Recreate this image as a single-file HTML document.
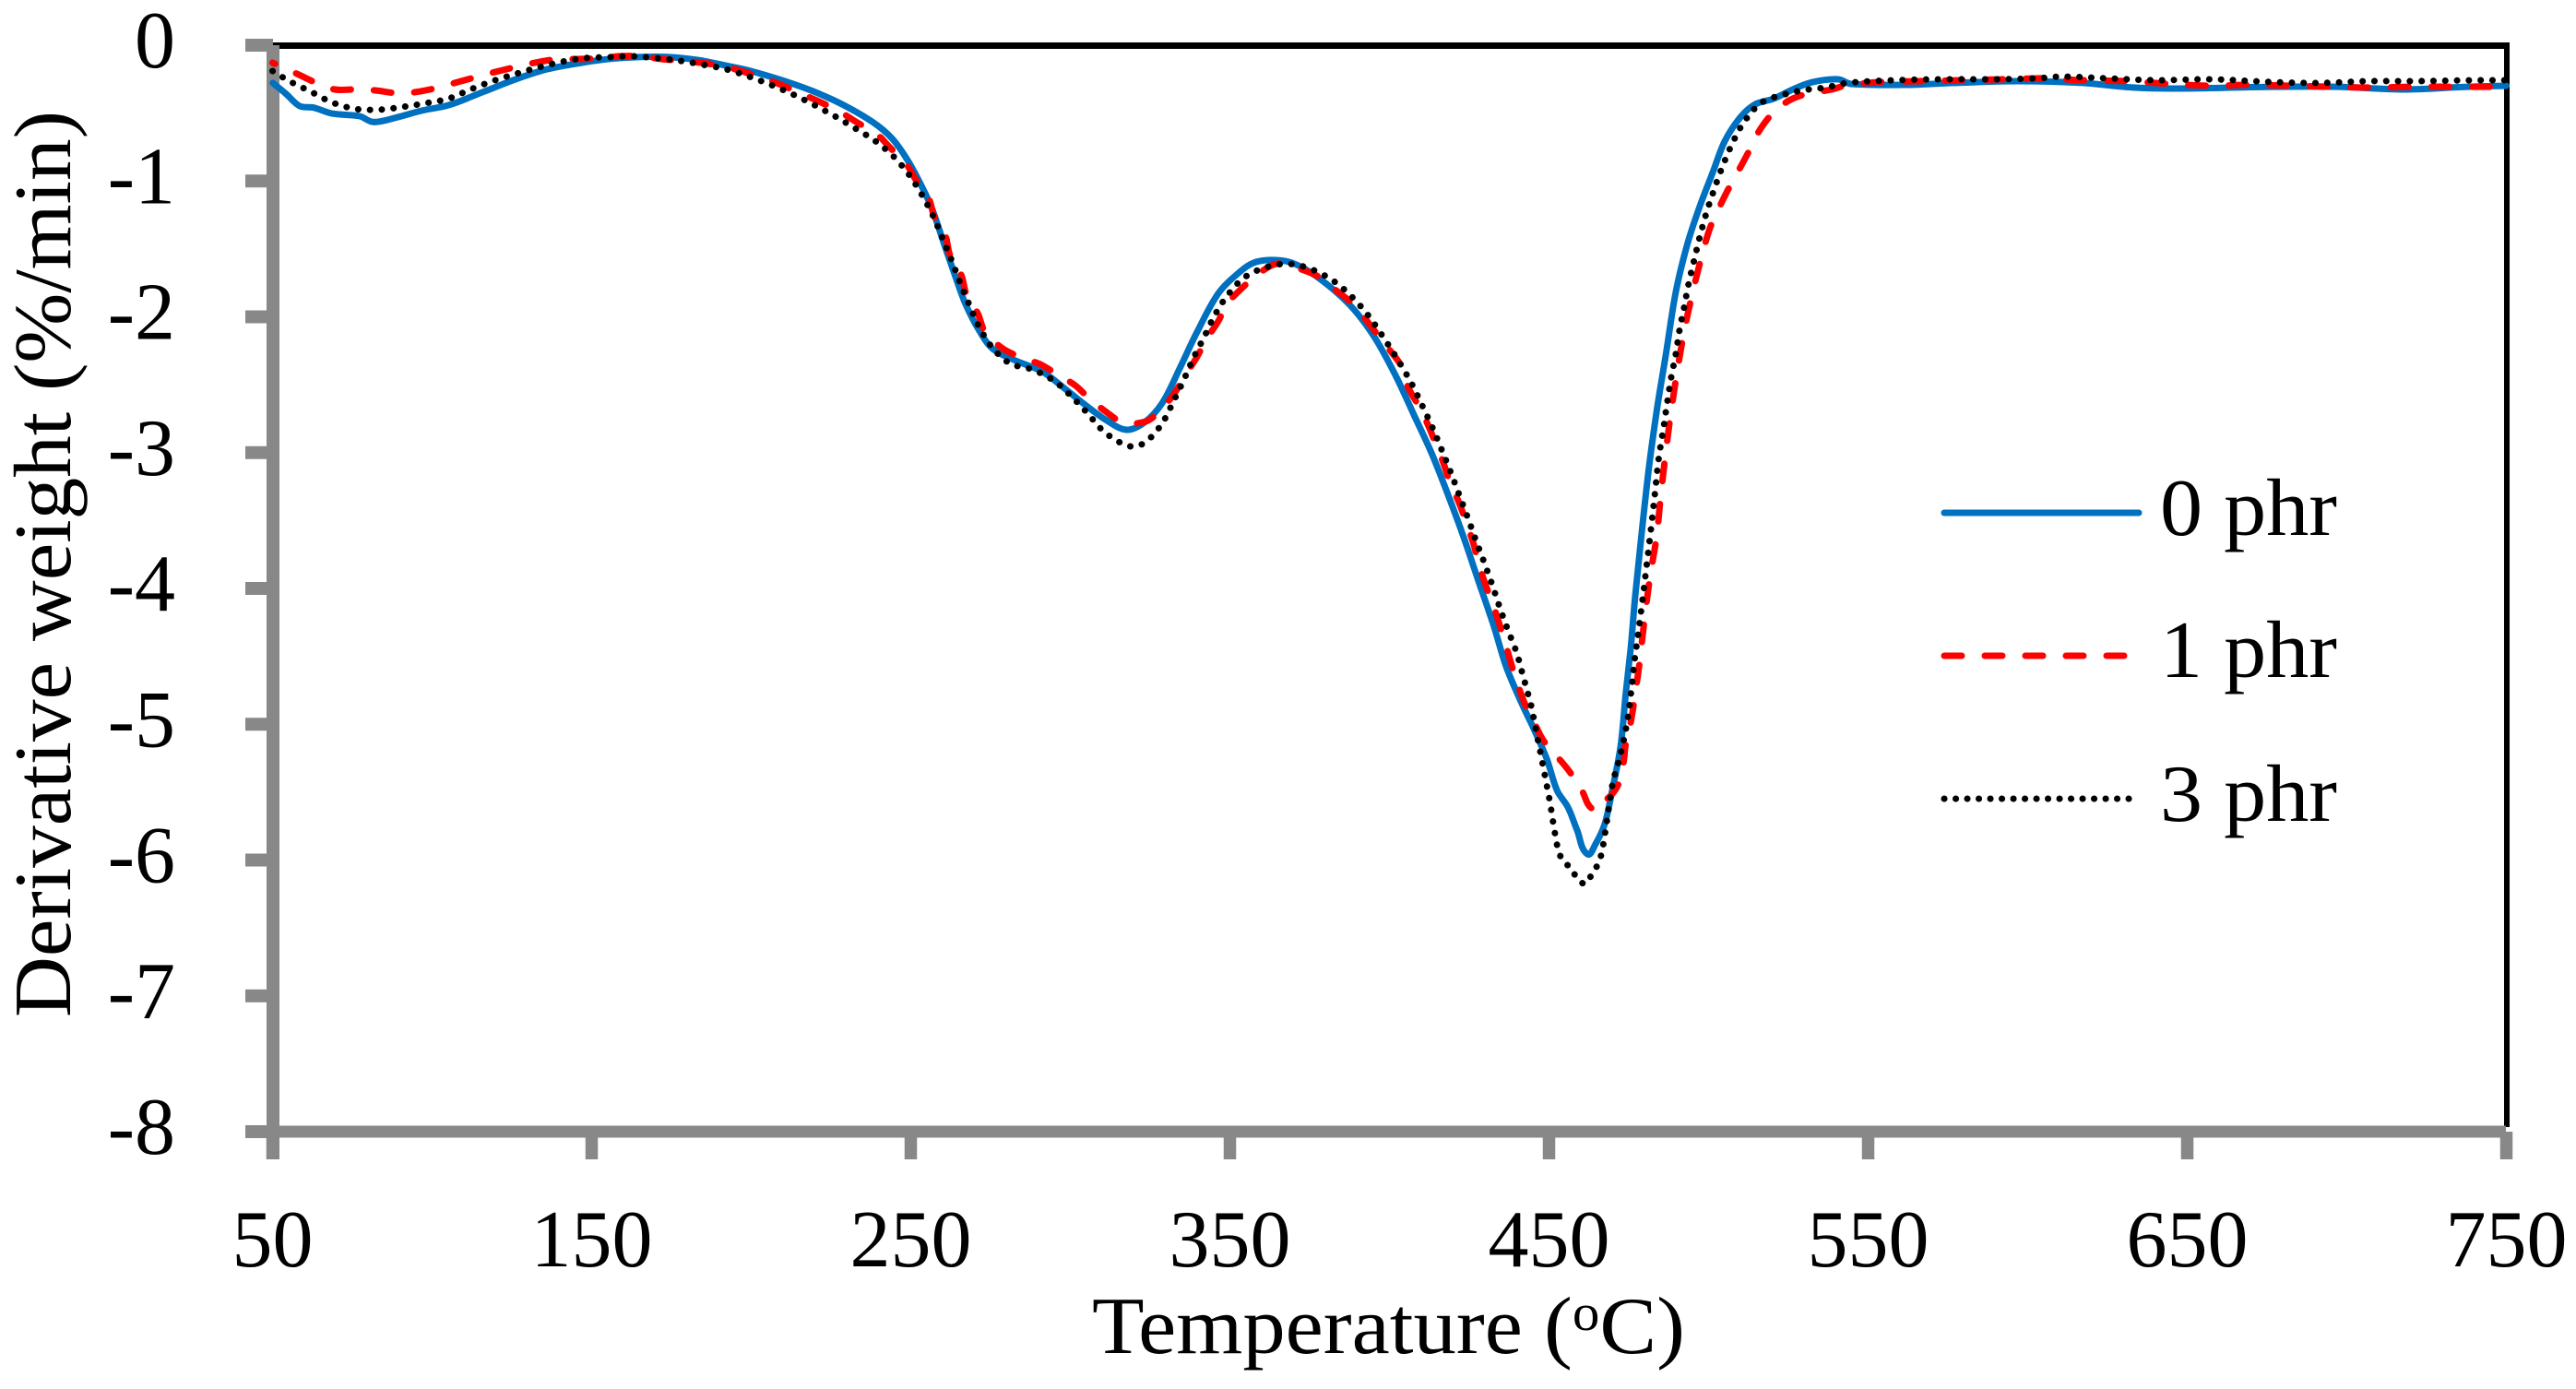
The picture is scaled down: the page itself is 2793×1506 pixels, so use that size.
<!DOCTYPE html>
<html lang="en">
<head>
<meta charset="utf-8">
<title>Derivative weight vs temperature</title>
<style>
html,body{margin:0;padding:0;background:#fff;}
svg{display:block;}
text{font-family:"Liberation Serif",serif;fill:#000;font-size:88px;}
</style>
</head>
<body>
<svg id="chart" xmlns="http://www.w3.org/2000/svg" width="2793" height="1506" viewBox="0 0 2793 1506">
  <rect x="0" y="0" width="2793" height="1506" fill="#ffffff"/>
  <g id="frame"></g>
  <g id="axes"></g>
  <g id="series"></g>
  <text x="1184" y="1467" textLength="643" lengthAdjust="spacingAndGlyphs">Temperature (<tspan dy="-25" font-size="56">o</tspan><tspan dy="25">C)</tspan></text>
  <text transform="translate(76,1103) rotate(-90)" x="0" y="0" textLength="983" lengthAdjust="spacingAndGlyphs">Derivative weight (%/min)</text>
  <g>
    <g>
      <line x1="2108" y1="556" x2="2319" y2="556" stroke="#0070c0" stroke-width="7" stroke-linecap="round"/>
      <text x="2342" y="580" textLength="192" lengthAdjust="spacingAndGlyphs">0 phr</text>
    </g>
    <g>
      <line x1="2108" y1="711" x2="2304" y2="711" stroke="#ff0000" stroke-width="7" stroke-linecap="round" stroke-dasharray="19 25"/>
      <text x="2342" y="734" textLength="192" lengthAdjust="spacingAndGlyphs">1 phr</text>
    </g>
    <g>
      <line x1="2108" y1="866" x2="2312" y2="866" stroke="#000000" stroke-width="7" stroke-linecap="round" stroke-dasharray="0.1 12.4"/>
      <text x="2342" y="890" textLength="192" lengthAdjust="spacingAndGlyphs">3 phr</text>
    </g>
  </g>
</svg>
<script>
const xTicks = [50,150,250,350,450,550,650,750];
const yTicks = [0,-1,-2,-3,-4,-5,-6,-7,-8];

const temp0 = [50.1,54.2,58.5,62.9,68.6,77.3,81.6,88.9,96.7,105.3,115.8,125.6,135.1,144.7,154.5,164.0,173.6,183.4,192.9,199.6,209.4,218.9,228.5,238.3,244.1,248.7,252.7,256.5,260.3,264.3,267.2,271.2,275.6,282.2,291.2,297.8,304.3,311.0,317.6,323.2,328.8,334.2,339.7,346.4,353.0,357.4,362.9,369.5,377.3,387.4,395.2,401.9,407.7,413.4,418.4,423.3,427.9,432.8,436.6,441.5,445.2,449.3,452.5,455.9,458.8,462.0,464.6,467.5,469.8,472.4,474.1,475.6,477.0,481.1,484.0,486.6,489.7,493.5,497.3,501.3,505.1,510.0,514.6,520.4,526.4,532.5,540.6,544.6,562.6,576.7,597.0,617.2,633.1,647.2,677.6,697.5,717.8,738.0,750.0];
const deriv0 = [-0.278,-0.358,-0.448,-0.460,-0.503,-0.523,-0.566,-0.532,-0.482,-0.441,-0.346,-0.256,-0.183,-0.138,-0.104,-0.088,-0.086,-0.109,-0.154,-0.188,-0.256,-0.335,-0.435,-0.570,-0.686,-0.835,-1.005,-1.195,-1.453,-1.725,-1.908,-2.092,-2.234,-2.316,-2.404,-2.520,-2.642,-2.757,-2.832,-2.778,-2.635,-2.384,-2.112,-1.827,-1.671,-1.603,-1.582,-1.603,-1.705,-1.908,-2.146,-2.431,-2.723,-3.015,-3.314,-3.626,-3.946,-4.285,-4.577,-4.849,-5.032,-5.256,-5.487,-5.610,-5.779,-5.956,-5.881,-5.732,-5.487,-5.168,-4.761,-4.441,-4.061,-3.151,-2.655,-2.282,-1.820,-1.453,-1.182,-0.937,-0.706,-0.530,-0.435,-0.394,-0.326,-0.272,-0.251,-0.285,-0.292,-0.278,-0.265,-0.278,-0.312,-0.319,-0.306,-0.306,-0.326,-0.306,-0.299];

const temp1 = [50.0,57.7,63.7,69.5,75.9,82.2,88.9,94.7,101.9,107.1,114.3,119.8,127.0,132.2,139.5,145.8,153.0,159.1,165.5,171.8,178.5,184.2,191.5,197.8,203.9,209.4,216.0,221.2,228.2,232.8,239.2,243.5,248.4,251.6,255.6,257.4,260.8,262.3,265.8,267.5,271.0,273.3,278.5,284.0,290.6,295.5,301.6,305.9,311.4,316.6,323.6,328.2,332.5,336.0,339.7,342.6,346.4,349.0,353.9,358.5,364.6,370.6,377.9,382.2,387.7,391.8,396.1,400.2,403.9,405.9,409.1,412.0,414.6,416.9,419.2,421.8,424.1,426.2,427.9,429.9,432.2,434.3,436.3,438.0,440.0,442.3,445.2,448.1,452.5,456.5,460.3,463.7,466.0,468.3,471.8,473.3,474.1,475.6,476.7,477.6,478.5,479.9,481.6,483.7,485.1,486.6,488.3,490.3,492.6,495.5,498.7,500.7,503.6,506.5,509.7,512.8,515.7,519.5,524.7,530.5,538.6,542.6,552.7,565.8,578.8,592.9,605.0,617.2,631.1,644.4,657.4,669.5,682.5,695.5,707.6,720.9,734.0,750.0];
const deriv1 = [-0.129,-0.211,-0.278,-0.326,-0.326,-0.333,-0.353,-0.346,-0.312,-0.278,-0.231,-0.197,-0.156,-0.129,-0.102,-0.102,-0.095,-0.081,-0.081,-0.102,-0.115,-0.129,-0.156,-0.197,-0.244,-0.292,-0.360,-0.414,-0.496,-0.564,-0.652,-0.754,-0.869,-0.992,-1.127,-1.263,-1.399,-1.548,-1.691,-1.840,-1.976,-2.112,-2.228,-2.295,-2.350,-2.418,-2.506,-2.601,-2.703,-2.778,-2.771,-2.689,-2.567,-2.431,-2.295,-2.166,-2.031,-1.908,-1.786,-1.691,-1.610,-1.637,-1.705,-1.786,-1.888,-1.997,-2.126,-2.248,-2.370,-2.520,-2.655,-2.791,-2.941,-3.076,-3.233,-3.368,-3.518,-3.660,-3.810,-3.959,-4.102,-4.251,-4.401,-4.543,-4.693,-4.842,-4.978,-5.114,-5.236,-5.351,-5.487,-5.623,-5.548,-5.548,-5.440,-5.290,-5.134,-4.985,-4.829,-4.679,-4.523,-4.231,-3.925,-3.620,-3.300,-2.995,-2.689,-2.384,-2.078,-1.772,-1.480,-1.331,-1.182,-1.046,-0.910,-0.774,-0.638,-0.516,-0.414,-0.360,-0.326,-0.299,-0.272,-0.265,-0.258,-0.251,-0.244,-0.258,-0.265,-0.285,-0.299,-0.292,-0.299,-0.306,-0.312,-0.306,-0.306,-0.306];

const temp3 = [50.0,55.3,62.3,68.6,75.9,83.4,90.6,97.8,105.1,112.0,118.9,126.2,133.4,140.6,147.8,155.1,162.6,170.1,177.6,184.8,192.1,199.3,206.2,212.9,219.8,226.2,232.5,238.9,244.7,249.6,253.6,257.1,260.0,262.9,265.5,268.4,271.5,275.6,281.1,288.3,294.9,300.4,305.6,310.5,316.9,320.4,324.1,328.8,332.2,335.4,338.6,342.0,345.2,349.3,354.5,361.1,368.3,375.6,382.2,387.7,392.9,397.0,403.3,407.1,410.3,413.4,416.3,419.2,421.8,424.4,427.0,429.6,432.2,434.5,437.1,439.8,441.8,443.8,444.7,446.1,447.6,449.0,450.4,451.6,453.0,454.5,456.8,458.8,461.4,463.5,465.5,466.6,467.8,468.9,470.1,472.1,473.8,475.0,475.9,476.7,478.2,479.6,481.4,483.1,484.3,486.0,487.1,488.3,489.7,490.9,492.4,493.8,495.5,497.3,499.3,501.6,504.2,507.1,510.6,515.2,518.4,521.9,529.3,536.6,543.5,558.5,573.9,589.0,603.0,610.5,625.0,640.3,657.4,677.6,691.8,706.8,721.8,740.0,750.0];
const deriv3 = [-0.190,-0.265,-0.346,-0.421,-0.469,-0.475,-0.455,-0.428,-0.394,-0.326,-0.265,-0.211,-0.163,-0.122,-0.095,-0.088,-0.081,-0.095,-0.115,-0.143,-0.177,-0.231,-0.292,-0.360,-0.441,-0.523,-0.611,-0.706,-0.822,-0.958,-1.107,-1.263,-1.426,-1.589,-1.752,-1.915,-2.078,-2.228,-2.343,-2.390,-2.472,-2.587,-2.716,-2.845,-2.941,-2.954,-2.913,-2.784,-2.628,-2.472,-2.302,-2.146,-1.990,-1.840,-1.711,-1.637,-1.610,-1.650,-1.732,-1.840,-1.976,-2.112,-2.343,-2.499,-2.655,-2.812,-2.975,-3.144,-3.307,-3.470,-3.640,-3.803,-3.973,-4.136,-4.306,-4.469,-4.638,-4.808,-4.896,-5.066,-5.243,-5.413,-5.589,-5.766,-5.935,-6.010,-6.058,-6.132,-6.173,-6.098,-6.024,-5.935,-5.766,-5.589,-5.419,-5.250,-5.073,-4.903,-4.727,-4.550,-4.285,-4.027,-3.674,-3.321,-3.056,-2.798,-2.621,-2.445,-2.275,-2.098,-1.922,-1.752,-1.582,-1.406,-1.236,-1.073,-0.903,-0.740,-0.584,-0.448,-0.401,-0.374,-0.333,-0.312,-0.278,-0.258,-0.251,-0.251,-0.244,-0.231,-0.244,-0.258,-0.251,-0.272,-0.278,-0.265,-0.265,-0.258,-0.258];

const NS = 'http://www.w3.org/2000/svg';
function xScale(t){ return 295.5 + (t - 50) * 3.46; }
function yScale(v){ return 49 - v * 147.25; }
function mk(tag, parent, attrs){
  const el = document.createElementNS(NS, tag);
  for (const k in attrs) el.setAttribute(k, attrs[k]);
  parent.appendChild(el);
  return el;
}
const GREY = '#888888';
const frame = document.getElementById('frame');
const axes = document.getElementById('axes');
const seriesGroup = document.getElementById('series');

const topLine = mk('rect', frame, {x:296, y:46, width:2425, height:7, fill:'#000'});


const rightLine = mk('rect', frame, {x:2715, y:46, width:6, height:1176, fill:'#000'});



const yAxisLine = mk('rect', axes, {x:289, y:49, width:14, height:1208, fill:GREY});


const xAxisLine = mk('rect', axes, {x:266, y:yScale(-8)-6.5, width:2451, height:13, fill:GREY});



yTicks.forEach(function(v){
  const y = yScale(v);
  const tick = mk('rect', axes, {x:266, y:y-7, width:30, height:14, fill:GREY});
  
  
  const label = mk('text', axes, {x:190, y:y+24, 'text-anchor':'end'});
  
  
  label.textContent = String(v);
});
xTicks.forEach(function(t){
  const x = xScale(t);
  const tick = mk('rect', axes, {x:x-6.75, y:yScale(-8), width:13.5, height:30, fill:GREY});
  
  
  const label = mk('text', axes, {x:x, y:1373, 'text-anchor':'middle'});
  
  
  label.textContent = String(t);
});

function linePath(ts, vs){
  const px = ts.map(xScale);
  const py = vs.map(yScale);
  const n = px.length;
  let d = 'M' + px[0].toFixed(1) + ' ' + py[0].toFixed(1);
  for (let i = 0; i < n - 1; i++) {
    const a = Math.max(i - 1, 0), b = Math.min(i + 2, n - 1);
    const segLen = Math.hypot(px[i+1]-px[i], py[i+1]-py[i]);
    const l1 = Math.hypot(px[i+1]-px[a], py[i+1]-py[a]) || 1;
    const l2 = Math.hypot(px[b]-px[i], py[b]-py[i]) || 1;
    const c1x = px[i] + (px[i+1]-px[a]) / l1 * segLen / 3;
    const c1y = py[i] + (py[i+1]-py[a]) / l1 * segLen / 3;
    const c2x = px[i+1] - (px[b]-px[i]) / l2 * segLen / 3;
    const c2y = py[i+1] - (py[b]-py[i]) / l2 * segLen / 3;
    d += ' C' + c1x.toFixed(1) + ' ' + c1y.toFixed(1) + ' ' + c2x.toFixed(1) + ' ' + c2y.toFixed(1) + ' ' + px[i+1].toFixed(1) + ' ' + py[i+1].toFixed(1);
  }
  return d;
}
const line0 = mk('path', seriesGroup, {d:linePath(temp0, deriv0), fill:'none', stroke:'#0070c0', 'stroke-width':7, 'stroke-linejoin':'round', 'stroke-linecap':'round'});


const line1 = mk('path', seriesGroup, {d:linePath(temp1, deriv1), fill:'none', stroke:'#ff0000', 'stroke-width':7, 'stroke-linejoin':'round', 'stroke-linecap':'round', 'stroke-dasharray':'19 25', 'stroke-dashoffset':16});


const line3 = mk('path', seriesGroup, {d:linePath(temp3, deriv3), fill:'none', stroke:'#000000', 'stroke-width':7, 'stroke-linejoin':'round', 'stroke-linecap':'round', 'stroke-dasharray':'0.1 12.7'});


</script>
</body>
</html>
